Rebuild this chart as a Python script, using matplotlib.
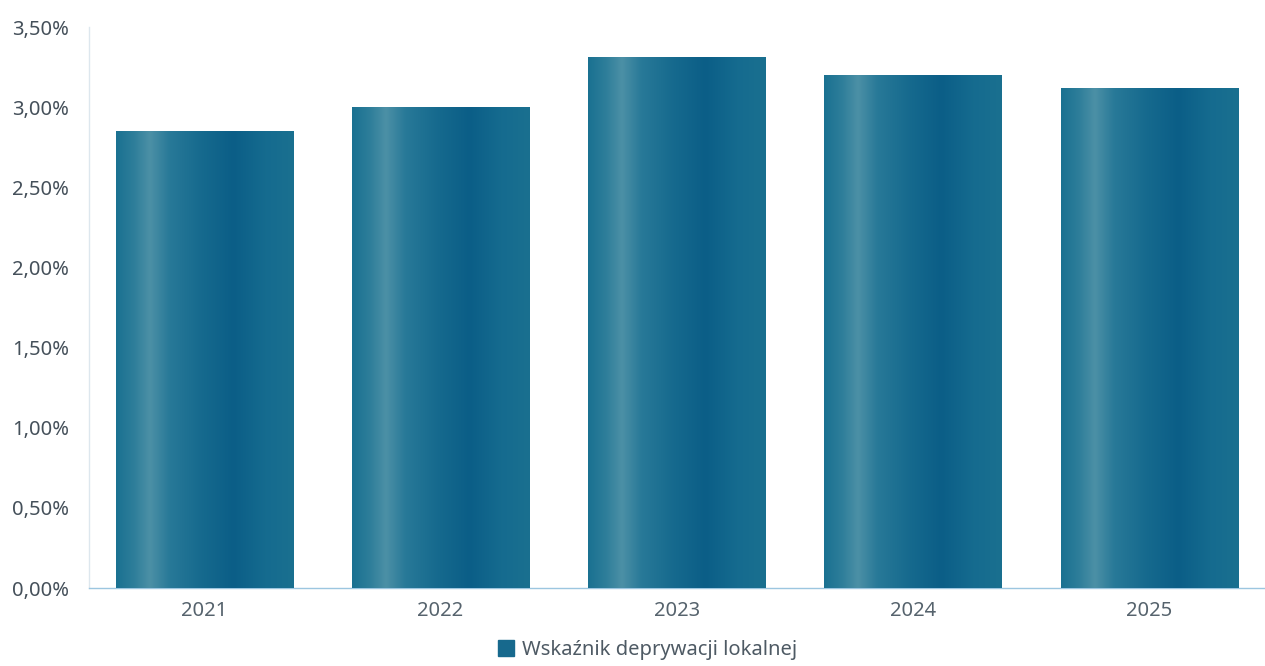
import numpy as np
import matplotlib.pyplot as plt
from matplotlib.colors import LinearSegmentedColormap
from matplotlib.ticker import FuncFormatter, MultipleLocator

# data
years = ['2021', '2022', '2023', '2024', '2025']
values = [2.85, 3.00, 3.31, 3.20, 3.12]  # in percent
series_name = 'Wskaźnik deprywacji lokalnej'

plt.rcParams['font.family'] = ['Noto Sans', 'DejaVu Sans']

# horizontal "cylinder" shading of the bars
bar_cmap = LinearSegmentedColormap.from_list('bar', [
    (0.0, '#1a7191'),
    (0.10, '#2e7e9a'),
    (0.19, '#4c90a6'),
    (0.30, '#287998'),
    (0.48, '#166a8e'),
    (0.66, '#0b5e87'),
    (0.84, '#156b8f'),
    (1.0, '#1a7090'),
])

fig = plt.figure(figsize=(12.65, 6.66), dpi=100)
ax = fig.add_axes([0.070, 0.117, 0.930, 0.842])

x = np.arange(len(years))
bars = ax.bar(x, values, width=0.75, color='#17698d', zorder=2)

grad = np.linspace(0, 1, 256).reshape(1, -1)
for b in bars:
    x0, y0 = b.get_x(), b.get_y()
    ax.imshow(grad, cmap=bar_cmap, aspect='auto', zorder=3, interpolation='bilinear',
              extent=[x0, x0 + b.get_width(), y0, y0 + b.get_height()])

ax.set_xlim(-0.49, 4.49)
ax.set_ylim(0, 3.5)
ax.yaxis.set_major_locator(MultipleLocator(0.5))
ax.yaxis.set_major_formatter(FuncFormatter(lambda v, p: ('%.2f%%' % v).replace('.', ',')))
ax.set_xticks(x)
ax.set_xticklabels(years)
ax.tick_params(axis='y', length=0, pad=14, labelsize=14.5, labelcolor='#45505a')
ax.tick_params(axis='x', length=0, pad=9, labelsize=14.5, labelcolor='#56636d')

for s in ['top', 'right']:
    ax.spines[s].set_visible(False)
ax.spines['left'].set_color('#dde7ee')
ax.spines['bottom'].set_color('#9cc6e0')
ax.spines['left'].set_linewidth(1)
ax.spines['bottom'].set_linewidth(1)

handle = plt.Rectangle((0, 0), 1, 1, color='#17698d')
fig.legend([handle], [series_name], loc='lower center', bbox_to_anchor=(0.512, -0.018),
           frameon=False, fontsize=14.5, handlelength=0.8, handleheight=0.9,
           handletextpad=0.4, labelcolor='#4e5a64')

fig.savefig('out.png', dpi=100)
